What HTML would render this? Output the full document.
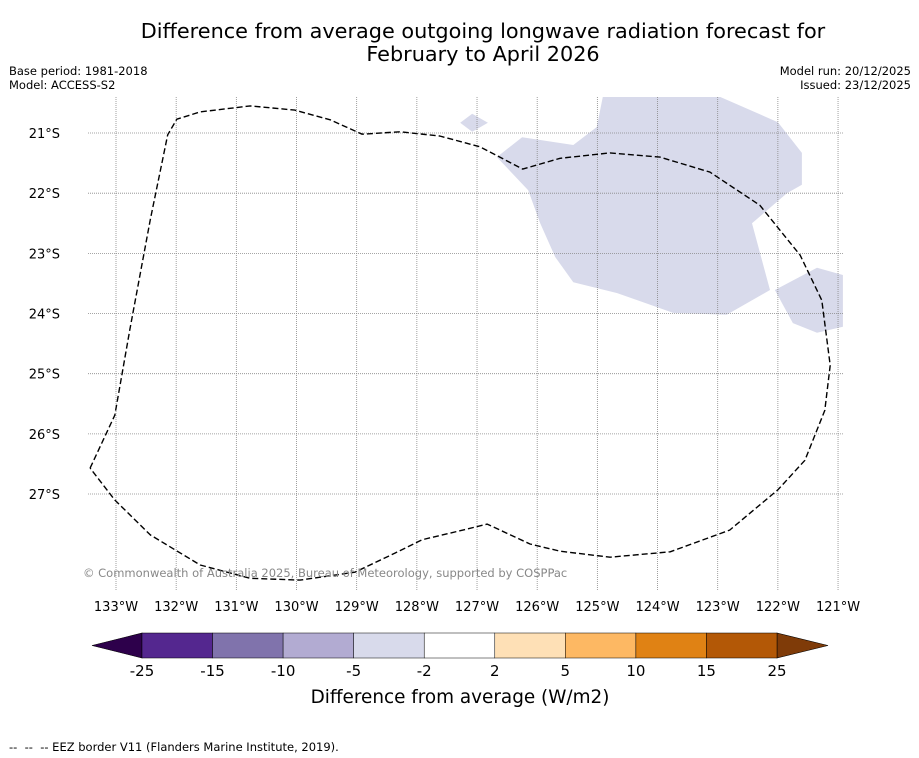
<!DOCTYPE html>
<html><head><meta charset="utf-8"><style>
body{margin:0;background:#fff;font-family:"DejaVu Sans","Liberation Sans",sans-serif;}
svg{display:block}
</style></head><body>
<svg width="919" height="758" font-family="DejaVu Sans, Liberation Sans, sans-serif">
<text x="483" y="38" text-anchor="middle" font-size="20.8">Difference from average outgoing longwave radiation forecast for</text>
<text x="483" y="61" text-anchor="middle" font-size="20.8">February to April 2026</text>
<text x="9" y="75" font-size="11.5">Base period: 1981-2018</text>
<text x="9" y="89" font-size="11.5">Model: ACCESS-S2</text>
<text x="911" y="75" font-size="11.5" text-anchor="end">Model run: 20/12/2025</text>
<text x="911" y="89" font-size="11.5" text-anchor="end">Issued: 23/12/2025</text>
<defs><clipPath id="mapclip"><rect x="88" y="97" width="755" height="493"/></clipPath></defs>
<g id="map" clip-path="url(#mapclip)"></g>
<g id="axes"></g>
<text x="83" y="577" font-size="11.5" fill="#888">© Commonwealth of Australia 2025, Bureau of Meteorology, supported by COSPPac</text>
<g id="cbar"></g>
<text x="460" y="703" text-anchor="middle" font-size="18.4">Difference from average (W/m2)</text>
<text x="9" y="751" font-size="11.5" xml:space="preserve" style="white-space:pre">--  --  -- EEZ border V11 (Flanders Marine Institute, 2019).</text>
</svg>
<script>
const lonTicks=[133,132,131,130,129,128,127,126,125,124,123,122,121];
const latTicks=[21,22,23,24,25,26,27];
const shadeMain=[[126.25,21.07],[125.40,21.20],[125.01,20.90],[124.91,20.40],[122.96,20.40],[122.00,20.82],[121.60,21.33],[121.60,21.86],[121.85,22.00],[122.43,22.50],[122.13,23.61],[122.85,24.02],[123.74,23.99],[124.67,23.66],[125.40,23.48],[125.70,23.06],[125.95,22.50],[126.15,21.95],[126.67,21.40]];
const shadeSmall=[[127.28,20.83],[127.08,20.68],[126.82,20.83],[127.08,20.98]];
const shadeRight=[[122.05,23.61],[121.35,23.24],[120.92,23.36],[120.92,24.22],[121.35,24.32],[121.75,24.16]];
const eez=[[133.43,26.57],[133.02,25.69],[132.77,24.27],[132.43,22.44],[132.14,21.03],[131.99,20.77],[131.60,20.65],[130.77,20.55],[130.03,20.62],[129.44,20.78],[128.91,21.02],[128.28,20.98],[127.62,21.05],[126.95,21.23],[126.24,21.60],[125.62,21.42],[124.79,21.33],[123.96,21.40],[123.13,21.65],[122.30,22.20],[121.63,23.03],[121.27,23.78],[121.13,24.86],[121.22,25.61],[121.55,26.44],[122.00,26.93],[122.80,27.60],[123.79,27.96],[124.79,28.05],[125.62,27.95],[126.12,27.83],[126.83,27.50],[127.28,27.61],[127.91,27.76],[128.36,27.98],[129.03,28.30],[129.94,28.43],[130.77,28.40],[131.60,28.18],[132.43,27.68],[133.02,27.10],[133.43,26.57]];
const cbLabels=["-25","-15","-10","-5","-2","2","5","10","15","25"];
const cbColors=["#54278f","#8073ac","#b2abd2","#d8daeb","#ffffff","#fee0b6","#fdb863","#e08214","#b35806"];
const NS="http://www.w3.org/2000/svg";
const PX=60.17;
const xS=w=>116+(133-w)*PX;
const yS=s=>133+(s-21)*PX;
function mk(t,a,p){const e=document.createElementNS(NS,t);for(const k in a)e.setAttribute(k,a[k]);p.appendChild(e);return e;}
const map=document.getElementById('map'),axes=document.getElementById('axes'),cb=document.getElementById('cbar');
function pts(arr){return arr.map(p=>xS(p[0]).toFixed(1)+','+yS(p[1]).toFixed(1)).join(' ');}
[[shadeMain,'shade-main'],[shadeSmall,'shade-small'],[shadeRight,'shade-right']].forEach(([a,n])=>{
 const e=mk('polygon',{points:pts(a),fill:'#d8daeb'},map);
 
 
});
lonTicks.forEach(w=>{
 const x=xS(w);
 const l=mk('line',{x1:x,x2:x,y1:97,y2:590,stroke:'#888','stroke-width':0.8,'stroke-dasharray':'1,1'},map);
 
 
 const t=mk('text',{x:x,y:611,'text-anchor':'middle','font-size':13},axes);
 t.textContent=w+'°W';
 
 
});
latTicks.forEach(s=>{
 const y=yS(s);
 const l=mk('line',{x1:88,x2:843,y1:y,y2:y,stroke:'#888','stroke-width':0.8,'stroke-dasharray':'1,1'},map);
 
 
 const t=mk('text',{x:60,y:y+5,'text-anchor':'end','font-size':13},axes);
 t.textContent=s+'°S';
 
 
});
const ez=mk('polyline',{points:pts(eez),fill:'none',stroke:'#000','stroke-width':1.4,'stroke-dasharray':'6,3','stroke-linejoin':'round'},map);


const cx0=142,cx1=777,cy=633,ch=25,sw=(cx1-cx0)/cbColors.length;
const tl=mk('polygon',{points:`${cx0},${cy} ${cx0},${cy+ch} 92,${cy+ch/2}`,fill:'#2d004b',stroke:'#000','stroke-width':0.6},cb);


const tr=mk('polygon',{points:`${cx1},${cy} ${cx1},${cy+ch} 828,${cy+ch/2}`,fill:'#7f3b08',stroke:'#000','stroke-width':0.6},cb);


cbColors.forEach((c,i)=>{
 const r=mk('rect',{x:cx0+i*sw,y:cy,width:sw,height:ch,fill:c,stroke:'#000','stroke-width':0.5},cb);
 
 
});
cbLabels.forEach((s,i)=>{
 const t=mk('text',{x:cx0+i*sw,y:676,'text-anchor':'middle','font-size':15},cb);
 t.textContent=s;
 
 
});
</script>
</body></html>
